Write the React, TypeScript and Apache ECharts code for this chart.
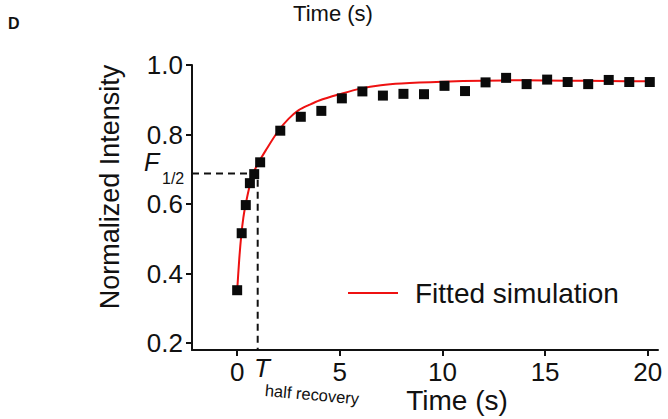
import React, { useEffect, useRef } from "react";
import * as echarts from "echarts";

// Measured data points (time in s, normalized intensity)
const pointTimes = [0, 0.22, 0.42, 0.62, 0.83, 1.12, 2.1, 3.1, 4.1, 5.1, 6.1, 7.1, 8.1, 9.1, 10.1, 11.1, 12.1, 13.1, 14.1, 15.1, 16.1, 17.1, 18.1, 19.1, 20.1];
const pointValues = [0.352, 0.516, 0.597, 0.66, 0.686, 0.72, 0.811, 0.851, 0.868, 0.904, 0.924, 0.912, 0.917, 0.916, 0.94, 0.925, 0.95, 0.963, 0.945, 0.958, 0.951, 0.945, 0.957, 0.951, 0.951];

// Fitted simulation curve
const fitTimes = [0, 0.1, 0.2, 0.3, 0.4, 0.6, 0.8, 1.0, 1.4, 2, 2.5, 3, 3.5, 4, 5, 6, 7, 8, 10, 12, 14, 16, 18, 20.2];
const fitValues = [0.35, 0.44, 0.51, 0.56, 0.595, 0.65, 0.69, 0.715, 0.755, 0.81, 0.845, 0.87, 0.885, 0.898, 0.916, 0.932, 0.942, 0.947, 0.952, 0.955, 0.956, 0.955, 0.954, 0.953];

// Half-recovery guide
const halfTime = 1.0;
const halfValue = 0.688;

const xTicks = [0, 5, 10, 15, 20];
const yTicks = [0.2, 0.4, 0.6, 0.8, 1.0];
const xMin = -2.2;
const xMax = 20.5;
const yMin = 0.18;
const yMax = 1.0;

const seriesName = "Fitted simulation";
const FONT = "Liberation Sans, Arial, Helvetica, sans-serif";

export default function App() {
  const ref = useRef<HTMLDivElement>(null);
  useEffect(() => {
    if (!ref.current) return;
    const chart = echarts.init(ref.current, null, { renderer: "svg" });
    const axisCommon = {
      axisLine: { show: true, onZero: false, lineStyle: { color: "#111", width: 2 } },
      axisTick: { show: true, inside: false, length: 6, lineStyle: { color: "#111", width: 2 } },
      splitLine: { show: false },
    };
    chart.setOption({
      animation: false,
      backgroundColor: "#ffffff",
      grid: { left: 192, right: 10, top: 65, bottom: 69, containLabel: false },
      xAxis: {
        type: "value",
        min: xMin,
        max: xMax,
        ...axisCommon,
        axisTick: { ...axisCommon.axisTick, customValues: xTicks },
        axisLabel: {
          customValues: xTicks,
          margin: 9,
          fontSize: 26,
          color: "#111",
          fontFamily: FONT,
          formatter: (v: number) => String(Math.round(v)),
        },
      },
      yAxis: {
        type: "value",
        min: yMin,
        max: yMax,
        ...axisCommon,
        axisTick: { ...axisCommon.axisTick, customValues: yTicks },
        axisLabel: {
          customValues: yTicks,
          margin: 9,
          fontSize: 26,
          color: "#111",
          fontFamily: FONT,
          formatter: (v: number) => v.toFixed(1),
        },
      },
      legend: {
        data: [{ name: seriesName, icon: "rect" }],
        left: 343,
        top: 274,
        itemWidth: 50,
        itemHeight: 2,
        textStyle: { fontSize: 28, color: "#111", fontFamily: FONT, padding: [0, 0, 0, 12] },
      },
      series: [
        {
          name: "guide",
          type: "line",
          data: [
            [xMin, halfValue],
            [halfTime, halfValue],
            [halfTime, yMin],
          ],
          symbol: "none",
          lineStyle: { color: "#111", width: 2, type: [7, 5] },
          silent: true,
          z: 1,
        },
        {
          name: seriesName,
          type: "line",
          data: fitTimes.map((t, i) => [t, fitValues[i]]),
          symbol: "none",
          smooth: 0.3,
          lineStyle: { color: "#ee1111", width: 2 },
          itemStyle: { color: "#ee1111" },
          z: 2,
        },
        {
          name: "data",
          type: "scatter",
          data: pointTimes.map((t, i) => [t, pointValues[i]]),
          symbol: "rect",
          symbolSize: 10,
          itemStyle: { color: "#0a0a0a", opacity: 1 },
          z: 3,
        },
      ],
      graphic: [
        { type: "text", left: 8, top: 15, style: { text: "D", fontSize: 16, fontWeight: "bold", fill: "#111", fontFamily: FONT } },
        { type: "text", x: 333, y: 13, style: { text: "Time (s)", fontSize: 22, fill: "#111", fontFamily: FONT, textAlign: "center", textVerticalAlign: "middle" } },
        { type: "text", x: 457, y: 400, style: { text: "Time (s)", fontSize: 28, fill: "#111", fontFamily: FONT, textAlign: "center", textVerticalAlign: "middle" } },
        { type: "text", x: 110, y: 187, rotation: Math.PI / 2, style: { text: "Normalized Intensity", fontSize: 27, fill: "#111", fontFamily: FONT, textAlign: "center", textVerticalAlign: "middle" } },
        { type: "text", x: 144, y: 162, style: { text: "F", fontSize: 25, fontStyle: "italic", fill: "#111", fontFamily: FONT, textAlign: "left", textVerticalAlign: "middle" } },
        { type: "text", x: 162, y: 178, style: { text: "1/2", fontSize: 16, fill: "#111", fontFamily: FONT, textAlign: "left", textVerticalAlign: "middle" } },
        { type: "text", x: 254, y: 368, style: { text: "T", fontSize: 26, fontStyle: "italic", fill: "#111", fontFamily: FONT, textAlign: "left", textVerticalAlign: "middle" } },
        { type: "text", x: 265, y: 390, rotation: -0.09, style: { text: "half recovery", fontSize: 16.5, fill: "#111", fontFamily: FONT, textAlign: "left", textVerticalAlign: "middle" } },
      ],
    });
    return () => chart.dispose();
  }, []);
  return <div ref={ref} style={{ width: 668, height: 419, position: "absolute", left: 0, top: 0 }} />;
}
